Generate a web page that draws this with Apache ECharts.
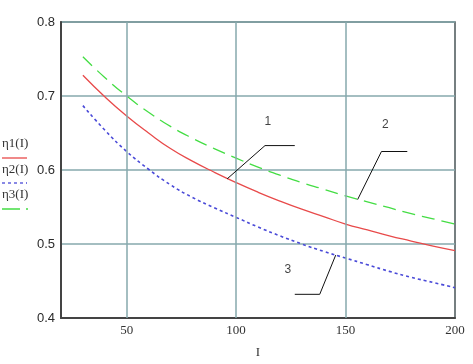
<!DOCTYPE html>
<html><head><meta charset="utf-8">
<script src="https://cdn.jsdelivr.net/npm/echarts@6/dist/echarts.min.js"></script>
<style>html,body{margin:0;padding:0;background:#fff}#c{width:473px;height:364px}</style>
</head><body><div id="c"></div>
<script>
const I = [30,40,50,60,70,80,90,100,110,120,130,140,150,160,170,180,190,200];
const eta1 = [0.728,0.699,0.673,0.650,0.629,0.612,0.597,0.583,0.570,0.558,0.547,0.537,0.527,0.519,0.511,0.504,0.497,0.491];
const eta2 = [0.687,0.654,0.625,0.601,0.580,0.563,0.549,0.536,0.523,0.511,0.500,0.490,0.481,0.472,0.463,0.455,0.448,0.441];
const eta3 = [0.753,0.725,0.700,0.678,0.659,0.643,0.629,0.616,0.604,0.593,0.583,0.574,0.565,0.557,0.549,0.541,0.534,0.527];
const xGridValues = [50,100,150];
const xLabelValues = [50,100,150,200];
const legendNames = ['η1(I)','η2(I)','η3(I)'];
const leader1 = [[95.9,0.588],[113.2,0.633],[126.8,0.633]];
const leader2 = [[155.5,0.560],[166.4,0.625],[178.2,0.625]];
const leader3 = [[126.8,0.432],[138.2,0.432],[145.5,0.485]];
const annotLabels = [['1',114.5,0.665],['2',168.2,0.661],['3',123.6,0.465]];

const pair = (xs, ys) => xs.map((x,i)=>[x,ys[i]]);
const chart = echarts.init(document.getElementById('c'));
const leaderStyle = {color:'#111', width:1};
const leaderSeries = (d)=>({type:'line', data:d, symbol:'none', lineStyle:leaderStyle, silent:true, z:5});
chart.setOption({
  animation:false,
  backgroundColor:'#fff',
  grid:{left:61, right:18, top:22, bottom:42, show:true, borderColor:'#4a5558', borderWidth:1.5},
  xAxis:{type:'value', min:20, max:200, interval:10,
    axisLine:{show:true, lineStyle:{color:'#444', width:2}},
    axisTick:{show:false}, splitLine:{show:false},
    axisLabel:{color:'#333', fontFamily:'Liberation Serif', fontSize:13, margin:6,
      formatter:(v)=> xLabelValues.includes(v) ? String(v) : ''},
    name:'I', nameLocation:'middle', nameGap:28,
    nameTextStyle:{color:'#333', fontFamily:'Liberation Serif', fontSize:13}},
  yAxis:{type:'value', min:0.4, max:0.8, interval:0.1,
    axisLine:{show:true, lineStyle:{color:'#444', width:2}},
    axisTick:{show:false},
    splitLine:{show:true, lineStyle:{color:'#86a9ac', width:1.5}},
    axisLabel:{color:'#2a2a2a', fontFamily:'Liberation Sans', fontSize:13, margin:6,
      formatter:(v)=>v.toFixed(1)}},
  graphic:[
    {type:'text', left:2, top:137, style:{text:legendNames[0], font:'13px "Liberation Serif"', fill:'#333'}},
    {type:'line', shape:{x1:2,y1:158,x2:27,y2:158}, style:{stroke:'#e84a4a', lineWidth:1.3}},
    {type:'text', left:2, top:163, style:{text:legendNames[1], font:'13px "Liberation Serif"', fill:'#333'}},
    {type:'line', shape:{x1:2,y1:183,x2:27,y2:183}, style:{stroke:'#4a4ad8', lineWidth:1.3, lineDash:[3,3]}},
    {type:'text', left:2, top:188, style:{text:legendNames[2], font:'13px "Liberation Serif"', fill:'#333'}},
    {type:'line', shape:{x1:2,y1:209,x2:28,y2:209}, style:{stroke:'#44dd44', lineWidth:1.3, lineDash:[18,6]}}
  ],
  series:[
    {type:'line', data:[], silent:true,
      markLine:{silent:true, symbol:'none', label:{show:false},
        lineStyle:{color:'#86a9ac', width:1.5, type:'solid'},
        data:xGridValues.map(v=>({xAxis:v}))}},
    {name:legendNames[0], type:'line', data:pair(I,eta1), symbol:'none', smooth:true,
      lineStyle:{color:'#e84a4a', width:1.3}, z:3},
    {name:legendNames[1], type:'line', data:pair(I,eta2), symbol:'none', smooth:true,
      lineStyle:{color:'#4a4ad8', width:1.6, type:[3,3]}, z:3},
    {name:legendNames[2], type:'line', data:pair(I,eta3), symbol:'none', smooth:true,
      lineStyle:{color:'#44dd44', width:1.3, type:[13,7]}, z:3},
    leaderSeries(leader1), leaderSeries(leader2), leaderSeries(leader3),
    {type:'scatter', symbolSize:0, silent:true, z:6,
      data:annotLabels.map(a=>({value:[a[1],a[2]], label:{show:true, formatter:a[0]}})),
      label:{show:true, position:'inside', color:'#111', fontFamily:'Liberation Sans', fontSize:12}}
  ]
});
</script></body></html>
